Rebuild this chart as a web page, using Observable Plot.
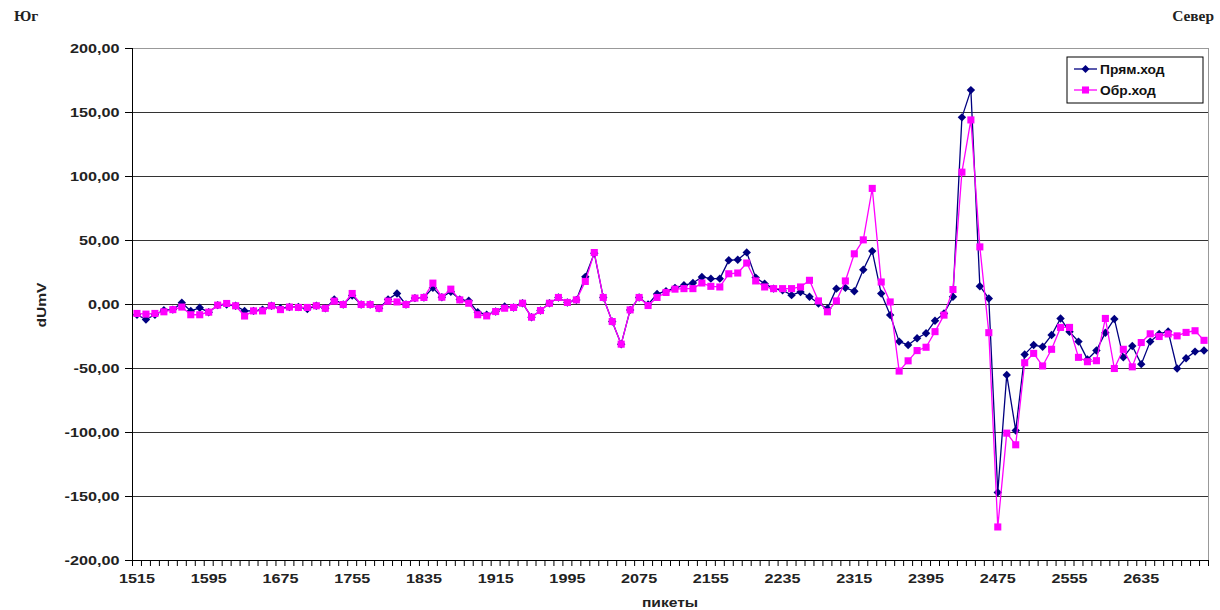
<!DOCTYPE html>
<html><head><meta charset="utf-8">
<script src="https://cdn.jsdelivr.net/npm/d3@7"></script>
<script src="https://cdn.jsdelivr.net/npm/@observablehq/plot@0.6"></script>
<style>body{margin:0;background:#fff} svg{display:block}</style>
</head><body><div id="chart"></div>
<script>
const pikety = [
  1515,1525,1535,1545,1555,1565,1575,1585,1595,1605,
  1615,1625,1635,1645,1655,1665,1675,1685,1695,1705,
  1715,1725,1735,1745,1755,1765,1775,1785,1795,1805,
  1815,1825,1835,1845,1855,1865,1875,1885,1895,1905,
  1915,1925,1935,1945,1955,1965,1975,1985,1995,2005,
  2015,2025,2035,2045,2055,2065,2075,2085,2095,2105,
  2115,2125,2135,2145,2155,2165,2175,2185,2195,2205,
  2215,2225,2235,2245,2255,2265,2275,2285,2295,2305,
  2315,2325,2335,2345,2355,2365,2375,2385,2395,2405,
  2415,2425,2435,2445,2455,2465,2475,2485,2495,2505,
  2515,2525,2535,2545,2555,2565,2575,2585,2595,2605,
  2615,2625,2635,2645,2655,2665,2675,2685,2695,2705
];
const pryamHod = [
  -8,-11.7,-8,-4.4,-4,1.3,-5,-2.6,-6,-0.5,
  0,-1,-5,-5,-4,-1,-3,-2,-2,-3.5,
  -1,-3,4,0,7,0,0,-3,4,8.6,
  0,5,5.5,13,5.7,10,4,2.9,-6,-8,
  -5.5,-1.6,-2.3,1,-9.9,-4.7,1,5.5,1.6,3.6,
  21.6,40,5.5,-13.3,-31,-4.2,5.5,0,8.3,10.4,
  13,15,16.8,21.5,20.2,20.2,34.5,35,40.7,21,
  16.3,12.4,11.1,7.3,9.8,6,0.8,-3.1,12.4,13,
  10.4,27.2,41.7,8.5,-8.3,-29,-31.6,-26.4,-22.5,-12.7,
  -7,6,146.2,167.5,14.3,4.7,-146.8,-55,-98.4,-39,
  -31.7,-33,-23.9,-10.9,-21.3,-29,-42.9,-36,-22,-11.3,
  -41.3,-32.4,-46.6,-29,-23,-21,-50,-42,-36.8,-36
];
const obrHod = [
  -7,-7.5,-7,-5.7,-4,-2,-8,-8,-6,-0.5,
  0.8,-1,-9,-5,-5,-1,-4,-2,-2.3,-2.3,
  -1,-3,2.6,0,8.6,0,0,-3,2.6,2,
  0,5,5.5,16.7,5.7,12,3.6,1,-8,-8.9,
  -5.5,-2.9,-2.3,1,-9.9,-4.7,1,5.5,1.6,3.6,
  18,40.6,5.5,-13.3,-31,-4.2,5.5,-0.8,5.5,9.4,
  12,12.4,12.4,16.8,14.2,13.7,24,24.6,32.4,18.4,
  13.7,12.4,12.4,12.4,13.7,18.9,2.8,-5.7,2.8,18.4,
  39.6,50.5,90.7,17.6,2,-52,-44,-36,-33.4,-21.2,
  -8.3,11.7,103.4,144.2,45,-22,-173.8,-100.5,-109.6,-45.5,
  -38.2,-48,-35,-17.9,-17.9,-41.3,-44.7,-43.9,-10.9,-50,
  -35,-48.7,-29.7,-22.9,-25,-23,-24.5,-21.8,-20.5,-28
];
const yTicks = [-200,-150,-100,-50,0,50,100,150,200];
const xLabelTicks = [1515,1595,1675,1755,1835,1915,1995,2075,2155,2235,2315,2395,2475,2555,2635];
const seriesNames = ["Прям.ход","Обр.ход"];
const seriesColors = ["#000080","#ff00ff"];

const half = 5;
const xMinorTicks = pikety.map(p => p - half).concat([pikety[pikety.length-1] + half]);
const xDomain = [xMinorTicks[0], xMinorTicks[xMinorTicks.length-1]];
const data = pikety.map((p,i) => ({p, a: pryamHod[i], b: obrHod[i]}));
const fmt = d => d.toFixed(2).replace(".", ",");
const FONT = "'Liberation Sans', Arial, sans-serif";

const plot = Plot.plot({
  width: 1220, height: 610,
  marginLeft: 132, marginRight: 12, marginTop: 48, marginBottom: 50,
  x: {domain: xDomain},
  y: {domain: [-200, 200]},
  style: {fontFamily: FONT, background: "#fff", color: "#222"},
  marks: [
    Plot.ruleY(yTicks.filter(d => d > -200 && d < 200), {stroke: "#333", strokeWidth: 1}),
    Plot.ruleY([200], {stroke: "#999", strokeWidth: 1}),
    Plot.ruleX([xDomain[1]], {stroke: "#999", strokeWidth: 1}),
    Plot.ruleX([xDomain[0]], {stroke: "#000", strokeWidth: 1}),
    Plot.ruleY([-200], {stroke: "#000", strokeWidth: 1}),
    Plot.axisY({ticks: yTicks, tickFormat: fmt, tickSize: 7, tickPadding: 6, fontSize: 13.5, fontWeight: "bold", label: null, stroke: "#000"}),
    Plot.axisX({ticks: xMinorTicks, tickFormat: () => "", tickSize: 6, label: null, stroke: "#000"}),
    Plot.axisX({ticks: xLabelTicks, tickFormat: d => String(d), tickSize: 0, tickPadding: 13, fontSize: 13.5, fontWeight: "bold", label: null}),
    Plot.line(data, {x: "p", y: "a", stroke: seriesColors[0], strokeWidth: 1.3}),
    Plot.dot(data, {x: "p", y: "a", symbol: "diamond2", r: 3.8, fill: seriesColors[0], stroke: null}),
    Plot.line(data, {x: "p", y: "b", stroke: seriesColors[1], strokeWidth: 1.3}),
    Plot.dot(data, {x: "p", y: "b", symbol: "square", r: 4, fill: seriesColors[1], stroke: null})
  ]
});

const SX = 1.2;
d3.select(plot).selectAll("text").each(function() {
  const t = this.getAttribute("transform");
  if (t && !/rotate/.test(t)) this.setAttribute("transform", t + ` scale(${SX},1)`);
});

const svg = d3.select(plot);
function addText(x, y, str, opts) {
  const o = Object.assign({size: 13, anchor: "start", family: FONT, weight: "bold", rotate: 0, sx: SX}, opts);
  svg.append("text")
    .attr("transform", `translate(${x},${y})` + (o.rotate ? ` rotate(${o.rotate}) scale(${o.sx},1)` : ` scale(${o.sx},1)`))
    .attr("text-anchor", o.anchor)
    .attr("font-family", o.family)
    .attr("font-size", o.size)
    .attr("font-weight", o.weight)
    .attr("fill", "#222")
    .text(str);
}
addText(670, 607, "пикеты", {anchor: "middle"});
addText(46, 305, "dUmV", {anchor: "middle", rotate: -90});
addText(14, 21, "Юг", {family: "'Liberation Serif', 'DejaVu Serif', serif", size: 14, sx: 1.1});
addText(1214, 21, "Север", {family: "'Liberation Serif', 'DejaVu Serif', serif", size: 14, anchor: "end", sx: 1.1});

// legend
const lg = svg.append("g");
lg.append("rect").attr("x", 1067).attr("y", 57).attr("width", 136).attr("height", 46)
  .attr("fill", "#fff").attr("stroke", "#000").attr("stroke-width", 1);
const rows = [69, 90];
const syms = [d3.symbolDiamond2, d3.symbolSquare];
const sizes = [40, 50];
seriesNames.forEach((name, i) => {
  const y = rows[i];
  lg.append("line").attr("x1", 1074).attr("x2", 1097).attr("y1", y).attr("y2", y)
    .attr("stroke", seriesColors[i]).attr("stroke-width", 1.3);
  lg.append("path").attr("d", d3.symbol(syms[i], sizes[i])())
    .attr("transform", `translate(1085.5,${y})`).attr("fill", seriesColors[i]);
  lg.append("text").attr("transform", `translate(1100,${y + 4.5}) scale(1.15,1)`)
    .attr("text-anchor", "start")
    .attr("font-family", FONT).attr("font-size", 12).attr("font-weight", "bold")
    .attr("fill", "#111").text(name);
});

document.getElementById("chart").appendChild(plot);
</script>
</body></html>
